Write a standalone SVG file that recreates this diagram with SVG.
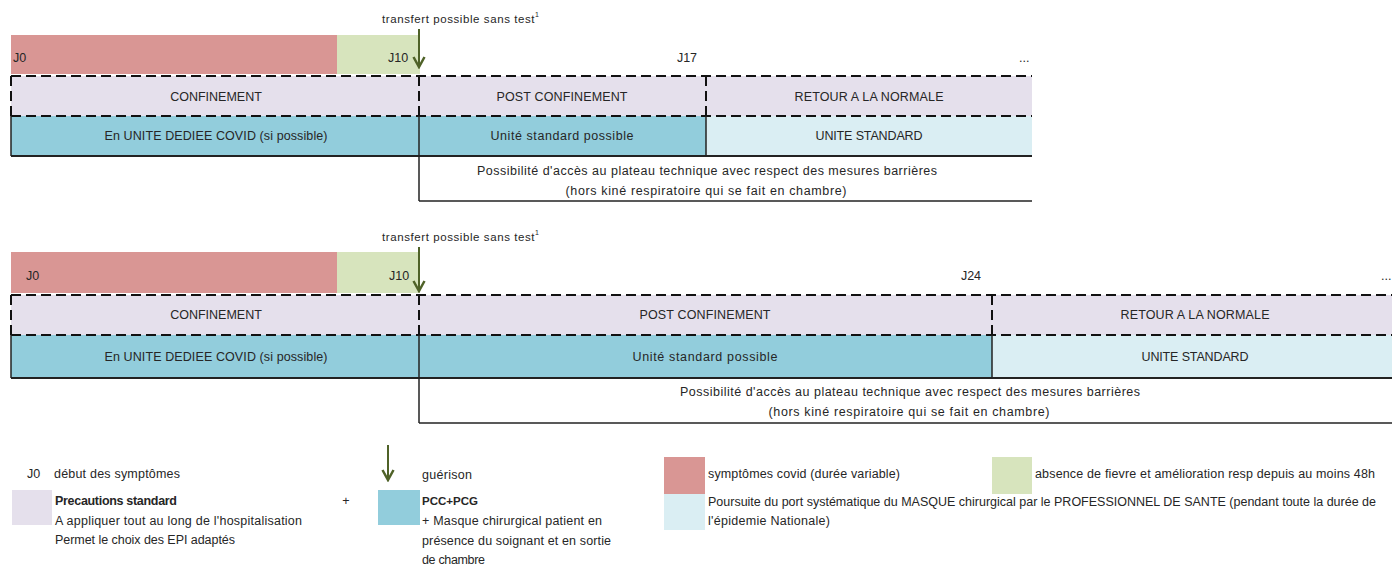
<svg xmlns="http://www.w3.org/2000/svg" width="1392" height="567" viewBox="0 0 1392 567">
<style>
text{font-family:"Liberation Sans",Arial,sans-serif;font-size:12.5px;fill:#262626}
.c{text-anchor:middle}
.b{font-weight:bold}
.s{font-size:11.5px}
.red{fill:#D99694}
.grn{fill:#D7E4BD}
.lav{fill:#E5E0EC}
.blu{fill:#92CDDC}
.lbl{fill:#DAEEF3}
.dash{stroke:#111;stroke-width:2;stroke-dasharray:10 5;fill:none}
.sol{stroke:#222;stroke-width:2;fill:none}
.thin{stroke:#222;stroke-width:1.5;fill:none}
.arr{stroke:#4F6228;stroke-width:2;fill:none}
</style>
<defs>
<marker id="ah" markerWidth="14" markerHeight="14" refX="12" refY="7" orient="auto" markerUnits="userSpaceOnUse" viewBox="0 0 14 14">
<path d="M2,1.5 L12,7 L2,12.5" stroke="#4F6228" stroke-width="2.5" fill="none"/>
</marker>
</defs>

<!-- ===== TOP TIMELINE ===== -->
<g id="top-symptoms">
<rect class="red" x="11" y="35" width="326" height="39"/>
<text x="13" y="62">J0</text>
</g>
<g id="top-nofever">
<rect class="grn" x="337" y="35" width="83" height="39"/>
<text x="388" y="62">J10</text>
</g>
<g id="top-transfer">
<text x="382" y="23" class="s" textLength="157">transfert possible sans test<tspan dy="-6" style="font-size:7px">1</tspan></text>
</g>
<g id="top-days">
<text class="c" x="687" y="62">J17</text>
<text x="1019" y="62">...</text>
</g>
<g id="top-confinement">
<rect class="lav" x="11" y="76" width="408" height="40"/>
<text class="c" x="216" y="101">CONFINEMENT</text>
</g>
<g id="top-post">
<rect class="lav" x="419" y="76" width="287" height="40"/>
<text class="c" x="562" y="101" textLength="131">POST CONFINEMENT</text>
</g>
<g id="top-retour">
<rect class="lav" x="706" y="76" width="326" height="40"/>
<text class="c" x="869" y="101" textLength="149">RETOUR A LA NORMALE</text>
</g>
<g id="top-dediee">
<rect class="blu" x="11" y="116" width="408" height="40"/>
<text class="c" x="216" y="140" textLength="223">En UNITE DEDIEE COVID (si possible)</text>
</g>
<g id="top-possible">
<rect class="blu" x="419" y="116" width="287" height="40"/>
<text class="c" x="562" y="140" textLength="143">Unité standard possible</text>
</g>
<g id="top-standard">
<rect class="lbl" x="706" y="116" width="326" height="40"/>
<text class="c" x="869" y="140" textLength="107">UNITE STANDARD</text>
</g>
<g id="top-plateau">
<text class="c" x="707" y="175" textLength="460">Possibilité d'accès au plateau technique avec respect des mesures barrières</text>
<text class="c" x="706" y="195" textLength="281">(hors kiné respiratoire qui se fait en chambre)</text>
</g>

<!-- ===== BOTTOM TIMELINE ===== -->
<g id="bot-symptoms">
<rect class="red" x="11" y="252" width="326" height="41"/>
<text x="26" y="280">J0</text>
</g>
<g id="bot-nofever">
<rect class="grn" x="337" y="252" width="83" height="41"/>
<text x="389" y="280">J10</text>
</g>
<g id="bot-transfer">
<text x="382" y="241" class="s" textLength="157">transfert possible sans test<tspan dy="-6" style="font-size:7px">1</tspan></text>
</g>
<g id="bot-days">
<text class="c" x="971" y="280">J24</text>
<text x="1381" y="280">...</text>
</g>
<g id="bot-confinement">
<rect class="lav" x="11" y="295" width="408" height="40"/>
<text class="c" x="216" y="319">CONFINEMENT</text>
</g>
<g id="bot-post">
<rect class="lav" x="419" y="295" width="573" height="40"/>
<text class="c" x="705" y="319" textLength="131">POST CONFINEMENT</text>
</g>
<g id="bot-retour">
<rect class="lav" x="992" y="295" width="400" height="40"/>
<text class="c" x="1195" y="319" textLength="149">RETOUR A LA NORMALE</text>
</g>
<g id="bot-dediee">
<rect class="blu" x="11" y="335" width="408" height="43"/>
<text class="c" x="216" y="361" textLength="223">En UNITE DEDIEE COVID (si possible)</text>
</g>
<g id="bot-possible">
<rect class="blu" x="419" y="335" width="573" height="43"/>
<text class="c" x="705" y="361" textLength="145">Unité standard possible</text>
</g>
<g id="bot-standard">
<rect class="lbl" x="992" y="335" width="400" height="43"/>
<text class="c" x="1195" y="361" textLength="107">UNITE STANDARD</text>
</g>
<g id="bot-plateau">
<text class="c" x="910" y="396" textLength="460">Possibilité d'accès au plateau technique avec respect des mesures barrières</text>
<text class="c" x="909" y="416" textLength="281">(hors kiné respiratoire qui se fait en chambre)</text>
</g>

<!-- ===== CONNECTORS / LINES ===== -->
<g id="connectors">
<!-- top -->
<line class="dash" x1="11" y1="76" x2="1032" y2="76"/>
<line class="dash" x1="11" y1="116" x2="1032" y2="116"/>
<line class="dash" x1="11" y1="76" x2="11" y2="116"/>
<line class="dash" x1="419" y1="76" x2="419" y2="116"/>
<line class="dash" x1="706" y1="76" x2="706" y2="116"/>
<line class="thin" x1="11" y1="116" x2="11" y2="156"/>
<line class="sol" x1="11" y1="156" x2="1032" y2="156"/>
<line class="thin" x1="419" y1="116" x2="419" y2="201"/>
<line class="thin" x1="706" y1="116" x2="706" y2="156"/>
<line class="thin" x1="419" y1="201" x2="1032" y2="201"/>
<line class="arr" x1="419" y1="29" x2="419" y2="67" marker-end="url(#ah)"/>
<!-- bottom -->
<line class="dash" x1="11" y1="295" x2="1392" y2="295"/>
<line class="dash" x1="11" y1="335" x2="1392" y2="335"/>
<line class="dash" x1="11" y1="295" x2="11" y2="335"/>
<line class="dash" x1="419" y1="295" x2="419" y2="335"/>
<line class="dash" x1="992" y1="295" x2="992" y2="335"/>
<line class="thin" x1="11" y1="335" x2="11" y2="378"/>
<line class="sol" x1="11" y1="378" x2="1392" y2="378"/>
<line class="thin" x1="419" y1="335" x2="419" y2="423"/>
<line class="thin" x1="992" y1="335" x2="992" y2="378"/>
<line class="thin" x1="419" y1="423" x2="1392" y2="423"/>
<line class="arr" x1="419" y1="247" x2="419" y2="291" marker-end="url(#ah)"/>
</g>

<!-- ===== LEGEND ===== -->
<g id="legend-j0">
<text x="27" y="478">J0</text>
<text x="54" y="478" textLength="126">début des symptômes</text>
</g>
<g id="legend-standard">
<rect class="lav" x="12" y="490" width="40" height="35"/>
<text class="b" x="55" y="505" textLength="122">Precautions standard</text>
<text x="55" y="525" textLength="247">A appliquer tout au long de l'hospitalisation</text>
<text x="55" y="544" textLength="180">Permet le choix des EPI adaptés</text>
</g>
<g id="legend-plus">
<text class="c" x="346" y="505">+</text>
</g>
<g id="legend-guerison">
<line class="arr" x1="388" y1="445" x2="388" y2="480" marker-end="url(#ah)"/>
<text x="422" y="479" textLength="50">guérison</text>
</g>
<g id="legend-pcc">
<rect class="blu" x="378" y="490" width="42" height="35"/>
<text class="b" x="422" y="505" style="font-size:11.5px">PCC+PCG</text>
<text x="422" y="525" textLength="180">+ Masque chirurgical patient en</text>
<text x="422" y="545" textLength="189">présence du soignant et en sortie</text>
<text x="422" y="564" textLength="63">de chambre</text>
</g>
<g id="legend-symptoms">
<rect class="red" x="664" y="457" width="41" height="37"/>
<text x="708" y="478" textLength="192">symptômes covid (durée variable)</text>
</g>
<g id="legend-nofever">
<rect class="grn" x="992" y="457" width="40" height="37"/>
<text x="1035" y="478" textLength="340">absence de fievre et amélioration resp depuis au moins 48h</text>
</g>
<g id="legend-masque">
<rect class="lbl" x="664" y="494" width="41" height="36"/>
<text x="708" y="506" textLength="668">Poursuite du port systématique du MASQUE chirurgical  par le PROFESSIONNEL DE SANTE (pendant toute la durée de</text>
<text x="708" y="525" textLength="122">l'épidemie Nationale)</text>
</g>
</svg>
